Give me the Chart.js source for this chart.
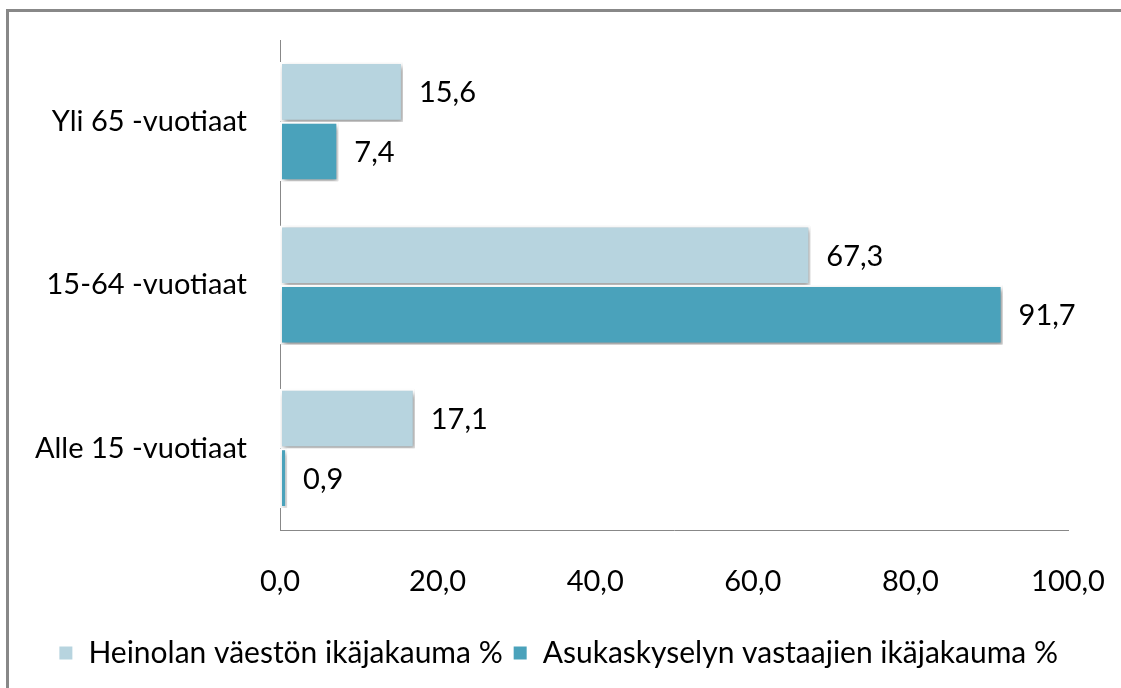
<!DOCTYPE html>
<html>
<head>
<meta charset="utf-8">
<script src="https://cdn.jsdelivr.net/npm/chart.js@4/dist/chart.umd.min.js"></script>
<style>
    body { margin: 0; background: #fff; overflow: hidden; }
    #frame { position: absolute; left: 6px; top: 9px; width: 1300px; height: 900px; border-left: 3px solid #888; border-top: 3px solid #888; }
    #wrap { position: absolute; left: 0; top: 0; width: 1121px; height: 688px; }
</style>
</head>
<body>
<div id="frame"></div>
<div id="wrap"><canvas id="chart"></canvas></div>
<script>
// ikäryhmät ylhäältä alas
var categories = ['Yli 65 -vuotiaat', '15-64 -vuotiaat', 'Alle 15 -vuotiaat'];
var seriesNames = ['Heinolan väestön ikäjakauma %', 'Asukaskyselyn vastaajien ikäjakauma %'];
var heinolaValues = [15.6, 67.3, 17.1];
var kyselyValues = [7.4, 91.7, 0.9];
var xTicks = [0, 20, 40, 60, 80, 100];

var fontName = 'Lato, "Open Sans", sans-serif';
var fontSize = 29;

function fmt(v) {
    return v.toFixed(1).replace('.', ',');
}

// varjo pylväille
var barShadow = {
    id: 'barShadow',
    beforeDatasetsDraw: function (chart) {
        var ctx = chart.ctx;
        ctx.save();
        ctx.shadowColor = 'rgba(0,0,0,0.4)';
        ctx.shadowBlur = 5;
        ctx.shadowOffsetX = 2;
        ctx.shadowOffsetY = 3;
    },
    afterDatasetsDraw: function (chart) {
        chart.ctx.restore();
    }
};

// arvot pylväiden perään
var valueLabels = {
    id: 'valueLabels',
    afterDatasetsDraw: function (chart) {
        var ctx = chart.ctx;
        ctx.save();
        ctx.font = fontSize + 'px ' + fontName;
        ctx.fillStyle = '#000';
        ctx.textAlign = 'left';
        ctx.textBaseline = 'middle';
        chart.data.datasets.forEach(function (ds, i) {
            var meta = chart.getDatasetMeta(i);
            meta.data.forEach(function (bar, j) {
                ctx.fillText(fmt(ds.data[j]), bar.x + 16, bar.y + 1);
            });
        });
        ctx.restore();
    }
};

var ctx = document.getElementById('chart').getContext('2d');
new Chart(ctx, {
    type: 'bar',
    data: {
        labels: categories,
        datasets: [{
            label: seriesNames[0],
            data: heinolaValues,
            backgroundColor: '#B7D4DF',
            borderColor: '#fff',
            borderWidth: 2,
            borderSkipped: false
        }, {
            label: seriesNames[1],
            data: kyselyValues,
            backgroundColor: '#4AA2BB',
            borderColor: '#fff',
            borderWidth: 2,
            borderSkipped: false
        }]
    },
    options: {
        indexAxis: 'y',
        responsive: true,
        maintainAspectRatio: false,
        animation: false,
        categoryPercentage: 0.73,
        barPercentage: 1.0,
        layout: {
            padding: { top: 40, right: 53, left: 0, bottom: 10 }
        },
        scales: {
            x: {
                min: 0,
                max: 100,
                afterBuildTicks: function (scale) {
                    scale.ticks = xTicks.map(function (v) { return { value: v }; });
                },
                afterFit: function (scale) {
                    scale.height = 98;
                    scale.paddingLeft = 0;
                    scale.paddingRight = 0;
                },
                grid: { display: false, drawTicks: false },
                border: { display: true, color: '#888', width: 1 },
                ticks: {
                    padding: 34,
                    color: '#000',
                    font: { family: fontName, size: fontSize },
                    maxRotation: 0,
                    callback: function (v) { return fmt(v); }
                }
            },
            y: {
                afterFit: function (scale) {
                    scale.width = 280;
                    scale.paddingTop = 0;
                    scale.paddingBottom = 0;
                },
                grid: { display: false, drawTicks: false },
                border: { display: true, color: '#888', width: 1 },
                ticks: {
                    padding: 33,
                    color: '#000',
                    font: { family: fontName, size: fontSize }
                }
            }
        },
        plugins: {
            legend: {
                display: true,
                position: 'bottom',
                align: 'end',
                labels: {
                    color: '#000',
                    boxWidth: 15,
                    boxHeight: 15,
                    padding: 10,
                    font: { family: fontName, size: 30 }
                }
            },
            tooltip: { enabled: false }
        }
    },
    plugins: [barShadow, valueLabels]
});
</script>
</body>
</html>
